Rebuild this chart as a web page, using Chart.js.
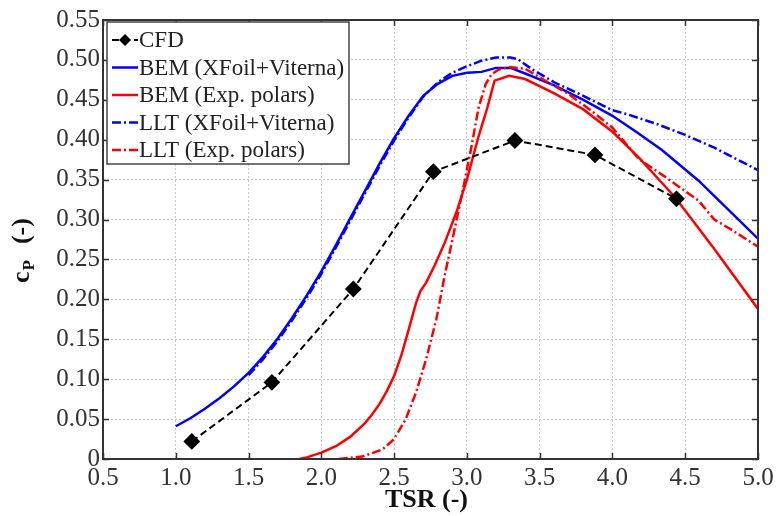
<!DOCTYPE html>
<html>
<head>
<meta charset="utf-8">
<script src="https://cdn.jsdelivr.net/npm/chart.js@4.4.1/dist/chart.umd.min.js"></script>
<style>
  body { margin: 0; background: #fff; }
</style>
</head>
<body>
<canvas id="myChart" width="778" height="516"></canvas>
<script>
const xTicks = [0.5, 1.0, 1.5, 2.0, 2.5, 3.0, 3.5, 4.0, 4.5, 5.0];
const yTicks = [0, 0.05, 0.10, 0.15, 0.20, 0.25, 0.30, 0.35, 0.40, 0.45, 0.50, 0.55];

const cfdX = [1.11, 1.66, 2.22, 2.77, 3.33, 3.88, 4.44];
const cfdY = [0.022, 0.096, 0.213, 0.360, 0.399, 0.381, 0.326];

const bemXfoilX = [1.0, 1.1, 1.2, 1.3, 1.4, 1.5, 1.6, 1.7, 1.8, 1.9, 2.0, 2.1, 2.2, 2.3, 2.4, 2.5, 2.6, 2.7, 2.8, 2.9, 3.0, 3.1, 3.2, 3.3, 3.4, 3.6, 3.8, 4.0, 4.17, 4.34, 4.59, 5.0];
const bemXfoilY = [0.041, 0.051, 0.063, 0.076, 0.091, 0.108, 0.128, 0.151, 0.177, 0.205, 0.235, 0.268, 0.302, 0.336, 0.370, 0.402, 0.430, 0.455, 0.470, 0.480, 0.484, 0.485, 0.490, 0.490, 0.483, 0.468, 0.450, 0.430, 0.409, 0.387, 0.349, 0.276];

const bemExpX = [1.85, 1.9, 2.0, 2.1, 2.2, 2.3, 2.35, 2.4, 2.45, 2.5, 2.55, 2.6, 2.65, 2.68, 2.72, 2.78, 2.85, 2.93, 3.0, 3.08, 3.14, 3.19, 3.29, 3.4, 3.6, 3.8, 4.0, 4.18, 4.43, 4.7, 5.0];
const bemExpY = [0, 0.002, 0.008, 0.016, 0.028, 0.045, 0.056, 0.069, 0.085, 0.104, 0.130, 0.162, 0.195, 0.210, 0.221, 0.243, 0.272, 0.310, 0.350, 0.404, 0.440, 0.474, 0.480, 0.476, 0.458, 0.438, 0.410, 0.378, 0.328, 0.263, 0.188];

const lltXfoilX = [1.5, 1.6, 1.7, 1.8, 1.9, 2.0, 2.1, 2.2, 2.3, 2.4, 2.5, 2.6, 2.7, 2.8, 2.9, 3.0, 3.1, 3.2, 3.3, 3.35, 3.45, 3.6, 3.8, 4.0, 4.1, 4.3, 4.5, 4.7, 4.85, 5.0];
const lltXfoilY = [0.105, 0.125, 0.148, 0.174, 0.202, 0.232, 0.265, 0.299, 0.333, 0.367, 0.399, 0.428, 0.454, 0.472, 0.484, 0.492, 0.499, 0.503, 0.503, 0.501, 0.488, 0.472, 0.455, 0.437, 0.432, 0.420, 0.406, 0.390, 0.376, 0.362];

const lltExpX = [2.12, 2.28, 2.42, 2.5, 2.58, 2.65, 2.72, 2.79, 2.85, 2.91, 2.97, 3.03, 3.08, 3.13, 3.17, 3.22, 3.29, 3.4, 3.52, 3.7, 3.85, 4.0, 4.18, 4.35, 4.52, 4.59, 4.7, 4.82, 5.0];
const lltExpY = [0, 0.003, 0.012, 0.025, 0.050, 0.083, 0.125, 0.175, 0.232, 0.283, 0.335, 0.390, 0.440, 0.470, 0.482, 0.488, 0.491, 0.489, 0.476, 0.457, 0.437, 0.415, 0.376, 0.355, 0.333, 0.324, 0.300, 0.287, 0.266];

const seriesNames = ['CFD', 'BEM (XFoil+Viterna)', 'BEM (Exp. polars)', 'LLT (XFoil+Viterna)', 'LLT (Exp. polars)'];

const SERIF = "'Liberation Serif', 'Times New Roman', serif";
const dashDot = [9, 3, 2, 3];

const pairs = (xs, ys) => xs.map((x, i) => ({ x: x, y: ys[i] }));

// frame, inward ticks, axis titles and legend
const decor = {
	id: 'decor',
	afterDatasetsDraw(chart) {
		const ctx = chart.ctx;
		const a = chart.chartArea;
		const xs = chart.scales.x;
		const ys = chart.scales.y;
		ctx.save();
		ctx.strokeStyle = '#333';
		ctx.lineWidth = 1.5;
		ctx.beginPath();
		xTicks.forEach(v => {
			const px = Math.round(xs.getPixelForValue(v)) + 0.5;
			ctx.moveTo(px, a.bottom); ctx.lineTo(px, a.bottom - 6);
			ctx.moveTo(px, a.top); ctx.lineTo(px, a.top + 6);
		});
		yTicks.forEach(v => {
			const py = Math.round(ys.getPixelForValue(v)) + 0.5;
			ctx.moveTo(a.left, py); ctx.lineTo(a.left + 6, py);
			ctx.moveTo(a.right, py); ctx.lineTo(a.right - 6, py);
		});
		ctx.stroke();
		ctx.lineWidth = 2;
		ctx.strokeRect(a.left, a.top, a.right - a.left, a.bottom - a.top);

		// x title
		ctx.fillStyle = '#111';
		ctx.font = 'bold 26px ' + SERIF;
		ctx.textAlign = 'center';
		ctx.textBaseline = 'middle';
		ctx.fillText('TSR (-)', (a.left + a.right) / 2 - 4, 500);

		// y title with subscript
		ctx.save();
		ctx.translate(29, 283);
		ctx.rotate(-Math.PI / 2);
		ctx.textAlign = 'left';
		ctx.textBaseline = 'alphabetic';
		ctx.font = 'bold 26px ' + SERIF;
		ctx.fillText('c', 0, 0);
		let w = ctx.measureText('c').width;
		ctx.font = 'bold 17px ' + SERIF;
		ctx.fillText('P', w + 1, 5);
		w += ctx.measureText('P').width;
		ctx.font = 'bold 26px ' + SERIF;
		ctx.fillText('(-)', w + 17, 0);
		ctx.restore();

		// legend
		const lx = 107, ly = 22, lw = 242, lh = 142;
		ctx.fillStyle = '#fff';
		ctx.fillRect(lx, ly, lw, lh);
		ctx.strokeStyle = '#444';
		ctx.lineWidth = 1.5;
		ctx.strokeRect(lx, ly, lw, lh);
		ctx.font = '23px ' + SERIF;
		ctx.textAlign = 'left';
		ctx.textBaseline = 'middle';
		chart.data.datasets.forEach((ds, i) => {
			const y = 40 + i * 27.5;
			ctx.save();
			ctx.strokeStyle = ds.borderColor;
			ctx.lineWidth = ds.borderWidth;
			ctx.setLineDash(ds.borderDash || []);
			ctx.beginPath();
			ctx.moveTo(112, y);
			ctx.lineTo(138, y);
			ctx.stroke();
			if (ds.pointRadius) {
				ctx.setLineDash([]);
				ctx.fillStyle = '#000';
				ctx.beginPath();
				ctx.moveTo(125, y - 6); ctx.lineTo(131, y); ctx.lineTo(125, y + 6); ctx.lineTo(119, y);
				ctx.closePath();
				ctx.fill();
			}
			ctx.restore();
			ctx.fillStyle = '#222';
			ctx.fillText(ds.label, 139, y + 1);
		});
		ctx.restore();
	}
};

new Chart('myChart', {
	type: 'line',
	data: {
		datasets: [
			{
				label: seriesNames[0],
				data: pairs(cfdX, cfdY),
				borderColor: '#000',
				backgroundColor: '#000',
				borderWidth: 2,
				borderDash: [7, 4],
				pointStyle: 'rectRot',
				pointRadius: 7,
				pointBackgroundColor: '#000',
				pointBorderColor: '#000',
				order: 0,
			},
			{
				label: seriesNames[1],
				data: pairs(bemXfoilX, bemXfoilY),
				borderColor: '#0000ff',
				borderWidth: 2.5,
				pointRadius: 0,
				order: 2,
			},
			{
				label: seriesNames[2],
				data: pairs(bemExpX, bemExpY),
				borderColor: '#ff0000',
				borderWidth: 2.5,
				pointRadius: 0,
				order: 3,
			},
			{
				label: seriesNames[3],
				data: pairs(lltXfoilX, lltXfoilY),
				borderColor: '#0000ff',
				borderWidth: 2.5,
				borderDash: dashDot,
				pointRadius: 0,
				order: 1,
			},
			{
				label: seriesNames[4],
				data: pairs(lltExpX, lltExpY),
				borderColor: '#ff0000',
				borderWidth: 2.5,
				borderDash: dashDot,
				pointRadius: 0,
				order: 1,
			},
		],
	},
	options: {
		responsive: false,
		animation: false,
		devicePixelRatio: 1,
		layout: { padding: { left: 0, right: 20, top: 20, bottom: 0 } },
		plugins: {
			legend: { display: false },
			tooltip: { enabled: false },
		},
		scales: {
			x: {
				type: 'linear',
				min: 0.5,
				max: 5.0,
				afterBuildTicks: s => { s.ticks = xTicks.map(v => ({ value: v })); },
				afterFit: s => { s.height = 57; },
				ticks: {
					callback: v => v.toFixed(1),
					font: { family: SERIF, size: 25 },
					color: '#333',
					padding: 4,
					maxRotation: 0,
				},
				grid: { color: '#c8c8c8', lineWidth: 1, drawTicks: false },
				border: { display: false, dash: [2, 2] },
			},
			y: {
				type: 'linear',
				min: 0,
				max: 0.55,
				afterBuildTicks: s => { s.ticks = yTicks.map(v => ({ value: v })); },
				afterFit: s => { s.width = 103; },
				ticks: {
					callback: v => (v === 0 ? '0' : v.toFixed(2)),
					font: { family: SERIF, size: 25 },
					color: '#333',
					padding: 3,
				},
				grid: { color: '#c8c8c8', lineWidth: 1, drawTicks: false },
				border: { display: false, dash: [2, 2] },
			},
		},
	},
	plugins: [decor],
});
</script>
</body>
</html>
